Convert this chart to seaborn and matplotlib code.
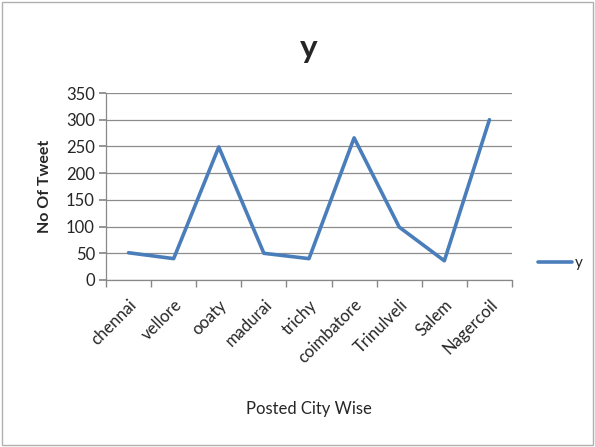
import matplotlib
matplotlib.use("Agg")
import matplotlib.pyplot as plt
import seaborn as sns
import pandas as pd
from matplotlib.patches import Rectangle

cities = ["chennai", "vellore", "ooaty", "madurai", "trichy", "coimbatore",
          "Trinulveli", "Salem", "Nagercoil"]
tweets = [51, 40, 249, 50, 40, 266, 99, 36, 300]
yticks = [0, 50, 100, 150, 200, 250, 300, 350]

sns.set_theme(style="white")
plt.rcParams['font.family'] = ['Lato', 'DejaVu Sans']

df = pd.DataFrame({"idx": range(len(cities)), "y": tweets})

fig = plt.figure(figsize=(5.95, 4.47), dpi=100)
ax = fig.add_axes([106/595, 1-280/447, (512-106)/595, (280-93)/447])

sns.lineplot(data=df, x="idx", y="y", ax=ax, color="#4a7ebb", linewidth=2.6, label="y")

ax.set_xlim(-0.5, len(cities)-0.5)
ax.set_ylim(0, 350)
ax.set_yticks(yticks)
ax.set_yticklabels([str(v) for v in yticks], fontsize=12)
ax.set_xticks(range(len(cities)))
ax.set_xticklabels(cities, rotation=45, ha="right", rotation_mode="anchor", fontsize=12)
ax.set_xticks([i - 0.5 for i in range(len(cities)+1)], minor=True)
ax.tick_params(axis="x", which="major", length=0, pad=12)
ax.tick_params(axis="x", which="minor", length=5, color="#888888", direction="out", bottom=True)
ax.tick_params(axis="y", length=5, color="#888888", direction="out", left=True, pad=3)
ax.grid(axis="y", color="#8c8c8c", linewidth=0.9)
ax.grid(axis="x", visible=False)
for s in ["top", "right"]:
    ax.spines[s].set_visible(False)
for s in ["left", "bottom"]:
    ax.spines[s].set_color("#888888")
    ax.spines[s].set_linewidth(0.9)

ax.set_xlabel("Posted City Wise", fontsize=12, labelpad=25)
ax.set_ylabel("No Of Tweet", fontsize=11.5, fontweight="bold", labelpad=10)
ax.set_title("y", fontsize=24, fontweight="bold", pad=25)

leg = ax.legend(loc="center left", bbox_to_anchor=(1.03, 0.09), frameon=False,
                handlelength=2.2, fontsize=11, handletextpad=0.2)

fig.patches.append(Rectangle((0.003, 0.005), 0.994, 0.99, transform=fig.transFigure,
                             fill=False, edgecolor="#b0b0b0", linewidth=1))

fig.savefig("out.png", dpi=100)
